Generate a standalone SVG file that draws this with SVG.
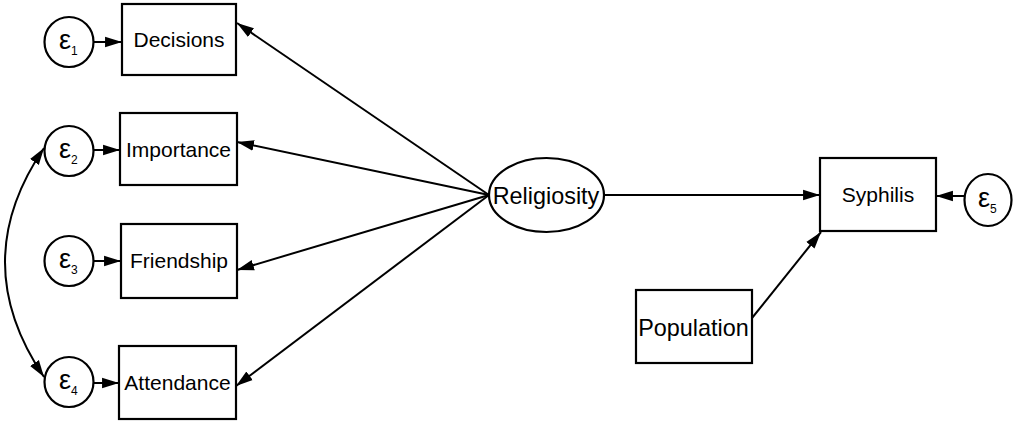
<svg xmlns="http://www.w3.org/2000/svg" width="1013" height="421" viewBox="0 0 1013 421">
<style>
.box{fill:#fff;stroke:#000;stroke-width:2.2}
.lbl{font-family:"Liberation Sans",Arial,sans-serif;font-size:21px;fill:#000;text-anchor:middle}
.big{font-size:23.4px}
.eps{font-family:"Liberation Sans",Arial,sans-serif;font-size:27px;fill:#000}
.sub{font-size:12px}
.con{fill:none;stroke:#000;stroke-width:2}
</style>
<defs>
<marker id="ah" markerUnits="userSpaceOnUse" markerWidth="18" markerHeight="12" refX="16" refY="5" orient="auto-start-reverse" viewBox="0 0 17 10">
<path d="M0,0 L16,5 L0,10 z" fill="#000"/>
</marker>
</defs>
<g id="connectors">
<line class="con" x1="93.5" y1="42" x2="122" y2="42" marker-end="url(#ah)"/>
<line class="con" x1="93.5" y1="150" x2="120" y2="150" marker-end="url(#ah)"/>
<line class="con" x1="93.5" y1="261" x2="121" y2="261" marker-end="url(#ah)"/>
<line class="con" x1="93.5" y1="383" x2="119" y2="383" marker-end="url(#ah)"/>
<line class="con" x1="489" y1="195" x2="237" y2="23" marker-end="url(#ah)"/>
<line class="con" x1="489" y1="195" x2="237" y2="142" marker-end="url(#ah)"/>
<line class="con" x1="489" y1="195" x2="237" y2="270" marker-end="url(#ah)"/>
<line class="con" x1="489" y1="195" x2="236" y2="386" marker-end="url(#ah)"/>
<line class="con" x1="604" y1="195" x2="820" y2="195" marker-end="url(#ah)"/>
<line class="con" x1="752" y1="318" x2="821" y2="232" marker-end="url(#ah)"/>
<line class="con" x1="965" y1="196" x2="936" y2="196" marker-end="url(#ah)"/>
<path class="con" d="M44,148 Q-34,262 44,377" marker-start="url(#ah)" marker-end="url(#ah)"/>
</g>
<g id="e1"><ellipse class="box" cx="69" cy="42" rx="24.5" ry="25"/><text class="eps" x="59" y="49">ε<tspan class="sub" dy="6">1</tspan></text></g>
<g id="e2"><ellipse class="box" cx="69" cy="151" rx="24.5" ry="25"/><text class="eps" x="59" y="158">ε<tspan class="sub" dy="6">2</tspan></text></g>
<g id="e3"><ellipse class="box" cx="69" cy="261" rx="24.5" ry="25"/><text class="eps" x="59" y="268">ε<tspan class="sub" dy="6">3</tspan></text></g>
<g id="e4"><ellipse class="box" cx="69" cy="382" rx="24.5" ry="25"/><text class="eps" x="59" y="389">ε<tspan class="sub" dy="6">4</tspan></text></g>
<g id="e5"><ellipse class="box" cx="988" cy="200" rx="23.5" ry="26"/><text class="eps" x="978" y="207">ε<tspan class="sub" dy="6">5</tspan></text></g>
<g id="decisions"><rect class="box" x="122" y="4" width="114" height="71"/><text class="lbl" x="179" y="47">Decisions</text></g>
<g id="importance"><rect class="box" x="120" y="113" width="117" height="72"/><text class="lbl" x="178.5" y="157">Importance</text></g>
<g id="friendship"><rect class="box" x="121" y="224" width="116" height="74"/><text class="lbl" x="179" y="268">Friendship</text></g>
<g id="attendance"><rect class="box" x="119" y="346" width="117" height="73"/><text class="lbl" x="177.5" y="390">Attendance</text></g>
<g id="religiosity"><ellipse class="box" cx="546.5" cy="195" rx="57.5" ry="37"/><text class="lbl big" x="546" y="204">Religiosity</text></g>
<g id="syphilis"><rect class="box" x="820" y="158" width="116" height="73"/><text class="lbl" x="878" y="202">Syphilis</text></g>
<g id="population"><rect class="box" x="636" y="290" width="116" height="73"/><text class="lbl big" x="693.5" y="336">Population</text></g>
</svg>
